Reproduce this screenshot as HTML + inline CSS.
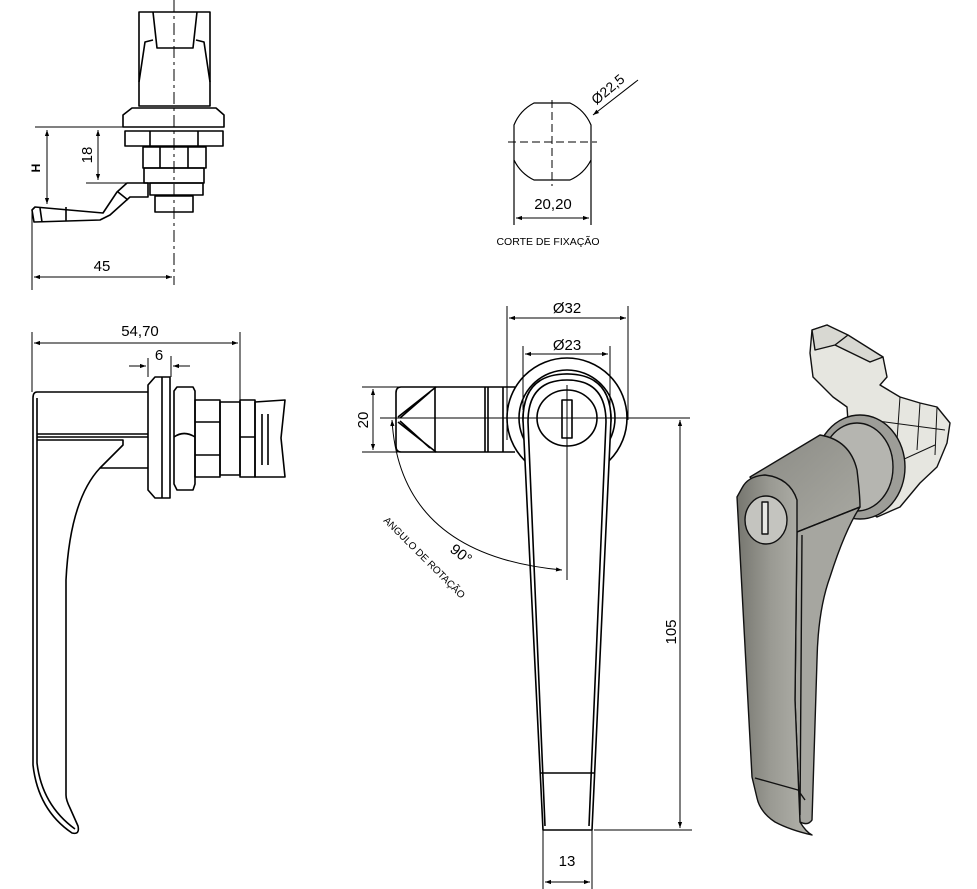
<!DOCTYPE html>
<html><head><meta charset="utf-8"><style>
html,body{margin:0;padding:0;background:#fff;}
svg{display:block;font-family:"Liberation Sans","DejaVu Sans",sans-serif;}
</style></head><body>
<svg width="977" height="889" viewBox="0 0 977 889" xmlns="http://www.w3.org/2000/svg">
<defs>
<marker id="a" viewBox="0 0 10 10" refX="10" refY="5" markerWidth="8" markerHeight="6" orient="auto-start-reverse"><path d="M0,1.5 L10,5 L0,8.5 z" fill="#000"/></marker>
<linearGradient id="g" x1="0" x2="1"><stop offset="0" stop-color="#76766f"/><stop offset=".45" stop-color="#9a9a93"/><stop offset="1" stop-color="#b4b4ad"/></linearGradient>
<linearGradient id="g2" x1="0" x2="1" y1="0" y2="1"><stop offset="0" stop-color="#8a8a84"/><stop offset="1" stop-color="#a9a9a2"/></linearGradient>
</defs>
<g fill="none" stroke="#000" stroke-width="1.6" stroke-linejoin="round">
<!-- TOP LEFT VIEW -->
<path d="M139,12 L210,12 L210,106 L139,106 Z"/>
<path d="M153,12 L157,48 L193,48 L197,12"/>
<path d="M139,82 L145,42 L153,40 M210,82 L204,42 L196,40"/>
<path d="M132,108 L216,108 L224,115 L224,127 L123,127 L123,115 Z"/>
<path d="M125,131 L223,131 L223,146 L125,146 Z M150,131 L150,146 M198,131 L198,146"/>
<path d="M143,147 L206,147 L206,168 L143,168 Z M160,147 L160,168 M188,147 L188,168"/>
<path d="M144,168 L204,168 L204,183 L144,183 Z"/>
<path d="M150,183 L203,183 L203,195 L150,195 Z"/>
<path d="M155,196 L193,196 L193,212 L155,212 Z"/>
<path d="M148,183 L127,183 L117,192 L103,213 L35,207 L32,210 L34,222 L100,220 L110,215 L130,197 L148,197 Z"/>
<path d="M66,207 L66,221 M40,208 L42,222 M118,192 L128,200"/>
</g>
<g stroke="#000" stroke-width="1" fill="none">
<path d="M174,0 L174,285" stroke-dasharray="12,4,3,4"/>
<path d="M35,127 L123,127 M86,183 L146,183"/>
<path d="M47,130 L47,204" marker-start="url(#a)" marker-end="url(#a)"/>
<path d="M98,130 L98,180" marker-start="url(#a)" marker-end="url(#a)"/>
<path d="M32,212 L32,290"/>
<path d="M34,277 L172,277" marker-start="url(#a)" marker-end="url(#a)"/>
</g>
<text x="40" y="168" font-size="12" font-weight="bold" transform="rotate(-90 40 168)" text-anchor="middle">H</text>
<text x="92" y="155" font-size="15" transform="rotate(-90 92 155)" text-anchor="middle">18</text>
<text x="102" y="271" font-size="15" text-anchor="middle">45</text>

<!-- CUTOUT -->
<g fill="none" stroke="#000" stroke-width="1.2">
<path d="M534,103 L570,103 A43,43 0 0 1 591,125 L591,160 A43,43 0 0 1 570,180 L534,180 A43,43 0 0 1 514,160 L514,125 A43,43 0 0 1 534,103 Z"/>
<path d="M514,160 L514,225 M591,160 L591,225"/>
<path d="M508,142 L597,142 M552,100 L552,186" stroke-dasharray="8,4" stroke-width="1"/>
<path d="M516,218 L589,218" stroke-width="1" marker-start="url(#a)" marker-end="url(#a)"/>
<path d="M638,80 L593,115" stroke-width="1" marker-end="url(#a)"/>
</g>
<text x="611" y="93" font-size="14" transform="rotate(-40 611 93)" text-anchor="middle">Ø22,5</text>
<text x="553" y="209" font-size="15" text-anchor="middle">20,20</text>
<text x="548" y="245" font-size="10.5" text-anchor="middle">CORTE DE FIXAÇÃO</text>

<!-- SIDE VIEW -->
<g fill="none" stroke="#000" stroke-width="1.6" stroke-linejoin="round">
<path d="M37,392 L148,392 M37,434 L148,434 M37,437 L148,437"/>
<path d="M37,392 Q33,392 33,398 L33,765 Q38,810 72,833 Q80,835 78,826 L70,808 Q66,800 66,795 L66,580 Q70,500 100,468 L123,445 L123,440 L37,440"/>
<path d="M37,398 L37,763 Q42,805 75,829"/>
<path d="M100,468 L148,468"/>
<path d="M155,377 L170,377 L170,498 L155,498 L148,490 L148,385 Z M162,377 L162,498"/>
<path d="M177,387 L193,387 L195,391 L195,484 L193,490 L177,490 L174,484 L174,391 Z"/>
<path d="M174,437 Q184,430 195,437"/>
<path d="M195,400 L220,400 L220,477 L195,477 Z M195,422 L220,422 M195,455 L220,455"/>
<path d="M220,402 L240,402 L240,475 L220,475 Z"/>
<path d="M240,400 L255,400 L255,477 L240,477 Z M240,437 L255,437"/>
<path d="M255,402 L285,400 L281,438 L285,477 L255,477 Z M262,414 L262,465 M268,414 L268,465"/>
</g>
<g stroke="#000" stroke-width="1" fill="none">
<path d="M32,332 L32,392 M240,332 L240,400"/>
<path d="M34,343 L238,343" marker-start="url(#a)" marker-end="url(#a)"/>
<path d="M148,358 L148,377 M171,356 L171,377"/>
<path d="M129,366 L146,366" marker-end="url(#a)"/>
<path d="M190,366 L173,366" marker-end="url(#a)"/>
</g>
<text x="140" y="336" font-size="15" text-anchor="middle">54,70</text>
<text x="159" y="360" font-size="15" text-anchor="middle">6</text>

<!-- FRONT VIEW -->
<g fill="none" stroke="#000" stroke-width="1.6" stroke-linejoin="round">
<path d="M401,387 L435,387 L435,452 L401,452 Q396,452 396,446 L396,393 Q396,387 401,387 Z"/>
<path d="M398,417 L436,387 M398,422 L436,452 M400,418 L430,392 M400,421 L430,448"/>
<path d="M485,387 L485,452 M488,387 L488,452 M503,387 L503,452 M435,387 L515,387 M435,452 L515,452"/>
<circle cx="567" cy="418" r="60" fill="#fff"/>
<circle cx="567" cy="418" r="48"/>
<circle cx="567" cy="418" r="44"/>
<path d="M523,420 Q523,374 567,374 Q611,374 611,420 L592,830 L543,830 Z" fill="#fff"/>
<path d="M528,422 Q528,380 567,380 Q606,380 606,422 L589,826 M545,826 L528,422"/>
<ellipse cx="567" cy="418" rx="30" ry="28"/>
<rect x="562" y="400" width="10" height="38"/>
<path d="M541,773 L594,773"/>
</g>
<g stroke="#000" stroke-width="1" fill="none">
<path d="M380,418 L690,418"/>
<path d="M567,385 L567,580"/>
<path d="M507,306 L507,440 M628,306 L628,420 M523,346 L523,410 M610,346 L610,410"/>
<path d="M509,318 L626,318" marker-start="url(#a)" marker-end="url(#a)"/>
<path d="M525,354 L608,354" marker-start="url(#a)" marker-end="url(#a)"/>
<path d="M362,387 L401,387 M362,452 L401,452"/>
<path d="M373,389 L373,450" marker-start="url(#a)" marker-end="url(#a)"/>
<path d="M594,830 L692,830"/>
<path d="M680,420 L680,828" marker-start="url(#a)" marker-end="url(#a)"/>
<path d="M543,830 L543,889 M592,830 L592,889"/>
<path d="M545,882 L590,882" marker-start="url(#a)" marker-end="url(#a)"/>
<path d="M392,420 Q400,555 562,570" marker-start="url(#a)" marker-end="url(#a)"/>
</g>
<text x="567" y="313" font-size="15" text-anchor="middle">Ø32</text>
<text x="567" y="350" font-size="15" text-anchor="middle">Ø23</text>
<text x="368" y="420" font-size="15" transform="rotate(-90 368 420)" text-anchor="middle">20</text>
<text x="676" y="632" font-size="15" transform="rotate(-90 676 632)" text-anchor="middle">105</text>
<text x="567" y="866" font-size="15" text-anchor="middle">13</text>
<text x="458" y="558" font-size="15" transform="rotate(38 458 558)" text-anchor="middle">90°</text>
<text x="422" y="560" font-size="10" transform="rotate(45 422 560)" text-anchor="middle">ANGULO DE ROTAÇÃO</text>

<!-- 3D VIEW -->
<g stroke="#111" stroke-width="1.4" stroke-linejoin="round">
<!-- tongue + body behind -->
<path d="M812,330 L827,325 L883,357 L887,377 L880,385 L900,397 L920,403 L937,407 L950,423 L947,443 L937,467 L920,483 L900,507 L877,517 L860,505 L850,450 L847,407 L833,397 L813,377 L810,353 Z" fill="#e6e6e0"/>
<path d="M812,330 L827,325 L848,335 L835,345 L815,350 Z M848,335 L883,357 L870,362 L835,345" fill="#d8d8d2"/>
<path d="M900,397 L897,440 L900,470 M920,403 L917,450 M937,407 L935,455 M870,420 L945,430 M880,470 L935,445" fill="none" stroke-width="1"/>
<!-- flange ring -->
<ellipse cx="860" cy="467" rx="45" ry="52" fill="#9d9d98"/>
<ellipse cx="857" cy="467" rx="36" ry="44" fill="#b5b5b0"/>
<!-- cylinder body -->
<path d="M750,477 L820,435 Q850,440 857,470 Q860,495 860,507 L797,532 Z" fill="url(#g2)"/>
<!-- lever outer face -->
<path d="M797,532 L860,507 Q845,530 830,577 Q818,610 817,660 L812,820 Q808,826 800,822 L795,700 Z" fill="#a6a6a0"/>
<!-- lever main face -->
<path d="M742,488 Q748,476 765,475 Q790,478 797,500 L797,532 L795,700 L800,822 Q806,832 812,835 Q790,830 775,822 Q760,812 757,798 L752,777 L737,497 Z" fill="url(#g)"/>
<ellipse cx="766" cy="520" rx="21" ry="24" fill="#c4c4bf"/>
<rect x="762" y="502" width="6" height="32" fill="#e8e8e4"/>
<path d="M797,532 L860,507 M755,778 L798,790 L805,800 M802,535 L800,815" fill="none"/>
</g>
</svg>
</body></html>
